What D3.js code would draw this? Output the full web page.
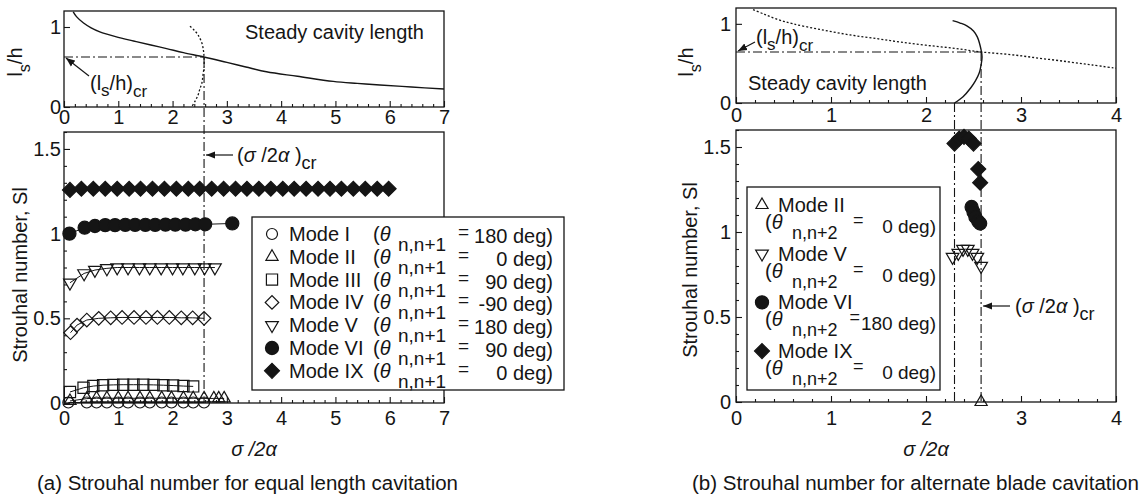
<!DOCTYPE html>
<html><head><meta charset="utf-8">
<script src="https://cdn.jsdelivr.net/npm/d3@7"></script>
<style>
body{margin:0;background:#fff}
svg{display:block}
text{font-family:"Liberation Sans",Arial,sans-serif;fill:#151515;white-space:pre}
</style>
</head><body><svg id="c" width="1143" height="499"></svg>
<script>
// ---------------- DATA ----------------
const xTicksA = [0,1,2,3,4,5,6,7];
const xTicksB = [0,1,2,3,4];
const yTicksTop = [0,1];
const yTicksSl = [0,0.5,1,1.5];
const yTickLabelsSl = ['0','0.5','1','1.5'];

// (a) top: steady cavity length (solid) and locus (dotted)
const steadyA_sigma = [0.17,0.23,0.36,0.5,0.66,0.95,1.28,1.6,1.89,2.2,2.58,3.0,3.35,3.73,4.3,4.96,5.4,5.82,6.4,7.0];
const steadyA_ls    = [1.19,1.13,1.05,0.99,0.94,0.88,0.825,0.775,0.73,0.68,0.625,0.557,0.5,0.44,0.384,0.32,0.295,0.275,0.25,0.225];
const locusA_sigma  = [2.32,2.40,2.47,2.54,2.57,2.58,2.58,2.56,2.54,2.50,2.47,2.42,2.35];
const locusA_ls     = [1.01,0.96,0.90,0.80,0.70,0.62,0.50,0.40,0.30,0.22,0.15,0.08,0.0];
const crA_sigma = 2.58, crA_ls = 0.625;

// (b) top: steady cavity length (dotted) and locus (solid)
const steadyB_sigma = [0.18,0.3,0.45,0.6,0.88,1.2,1.5,1.73,2.0,2.3,2.58,2.9,3.2,3.5,3.75,4.0];
const steadyB_ls    = [1.18,1.12,1.05,1.0,0.93,0.86,0.81,0.77,0.73,0.69,0.645,0.61,0.565,0.52,0.48,0.44];
const locusB_sigma  = [2.28,2.36,2.43,2.50,2.54,2.58,2.59,2.58,2.56,2.52,2.47,2.39,2.30];
const locusB_ls     = [1.04,1.01,0.975,0.91,0.835,0.67,0.58,0.48,0.38,0.28,0.19,0.08,0.0];
const crB_sigma = 2.58, crB_ls = 0.645, crB_sigmaLow = 2.30;

// (a) Strouhal numbers
const modeI_sigma   = [0.08,0.42,0.6,0.79,1.0,1.18,1.4,1.58,1.8,1.98,2.2,2.38,2.58];
const modeI_sl      = [0.003,0.003,0.003,0.003,0.003,0.003,0.003,0.003,0.003,0.003,0.003,0.003,0.003];
const modeII_sigma  = [0.11,0.42,0.6,0.79,1.0,1.18,1.4,1.58,1.8,1.98,2.2,2.38,2.58,2.76,2.85,2.95];
const modeII_sl     = [0.012,0.026,0.028,0.028,0.028,0.028,0.028,0.028,0.028,0.028,0.028,0.028,0.027,0.027,0.027,0.027];
const modeIII_sigma = [0.11,0.36,0.54,0.72,0.91,1.09,1.28,1.46,1.65,1.83,2.01,2.2,2.38];
const modeIII_sl    = [0.065,0.09,0.1,0.105,0.107,0.108,0.108,0.108,0.107,0.105,0.103,0.1,0.098];
const modeIV_sigma  = [0.12,0.24,0.42,0.64,0.86,1.07,1.29,1.51,1.72,1.94,2.16,2.37,2.58];
const modeIV_sl     = [0.415,0.46,0.49,0.5,0.503,0.505,0.505,0.505,0.505,0.505,0.503,0.503,0.5];
const modeV_sigma   = [0.11,0.37,0.57,0.79,0.98,1.18,1.39,1.58,1.79,2.0,2.19,2.41,2.59,2.78];
const modeV_sl      = [0.71,0.765,0.785,0.795,0.8,0.8,0.8,0.8,0.8,0.8,0.8,0.8,0.8,0.8];
const modeVI_sigma  = [0.1,0.38,0.57,0.76,0.94,1.13,1.31,1.5,1.68,1.87,2.05,2.24,2.42,2.6,3.1];
const modeVI_sl     = [1.0,1.035,1.045,1.05,1.05,1.052,1.052,1.052,1.052,1.053,1.053,1.053,1.055,1.055,1.06];
const modeIX_sigma  = [0.11,0.32,0.54,0.76,0.98,1.2,1.41,1.63,1.85,2.07,2.29,2.5,2.72,2.94,3.16,3.37,3.59,3.81,4.03,4.24,4.46,4.68,4.9,5.11,5.33,5.55,5.77,5.98];
const modeIX_sl     = [1.258,1.265,1.265,1.265,1.265,1.265,1.265,1.265,1.265,1.265,1.265,1.265,1.265,1.265,1.265,1.265,1.265,1.265,1.265,1.265,1.265,1.265,1.265,1.265,1.265,1.265,1.265,1.265];

// (b) Strouhal numbers
const bModeII_sigma = [2.58];
const bModeII_sl    = [0.0];
const bModeV_sigma  = [2.28,2.34,2.39,2.44,2.49,2.54,2.58];
const bModeV_sl     = [0.853,0.876,0.9,0.9,0.876,0.853,0.8];
const bModeVI_sigma = [2.48,2.5,2.52,2.55,2.57];
const bModeVI_sl    = [1.147,1.118,1.088,1.062,1.05];
const bModeIX_sigma = [2.30,2.35,2.40,2.45,2.50,2.55,2.57];
const bModeIX_sl    = [1.52,1.55,1.56,1.55,1.52,1.37,1.29];

// legends
const legendA_modes  = ['Mode I','Mode II','Mode III','Mode IV','Mode V','Mode VI','Mode IX'];
const legendA_phase  = ['180','0','90','-90','180','90','0'];
const legendB_modes  = ['Mode II','Mode V','Mode VI','Mode IX'];
const legendB_phase  = ['0','0','180','0'];

// ---------------- DRAW ----------------
const INK = '#151515';
const svg = d3.select('#c');
const defs = svg.append('defs');
defs.append('marker').attr('id','arr').attr('viewBox','0 0 10 10').attr('refX',10).attr('refY',5)
  .attr('markerWidth',9).attr('markerHeight',9).attr('markerUnits','userSpaceOnUse').attr('orient','auto')
  .append('path').attr('d','M0,1 L10,5 L0,9 Z').attr('fill',INK);

const xL  = d3.scaleLinear([0,7],[64,444]);
const yLT = d3.scaleLinear([0,1.2],[107,11]);
const yLB = d3.scaleLinear([0,1.6],[403,132]);
const xR  = d3.scaleLinear([0,4],[736,1116]);
const yRT = d3.scaleLinear([0,1.2],[103,8]);
const yRB = d3.scaleLinear([0,1.6],[402,130]);

const DASHDOT = '9,3,2,3';

function frame(x,y){
  svg.append('rect').attr('x',x.range()[0]).attr('y',y.range()[1])
    .attr('width',x.range()[1]-x.range()[0]).attr('height',y.range()[0]-y.range()[1])
    .attr('fill','none').attr('stroke',INK).attr('stroke-width',1.3);
}
function styleAxis(g){
  g.select('.domain').remove();
  g.selectAll('line').attr('stroke',INK).attr('stroke-width',1.1);
  g.selectAll('text').attr('font-size',20).attr('fill',INK).attr('font-family','"Liberation Sans",Arial,sans-serif');
}
function xAxis(x,y,majors,minorStep,pad){
  const g = svg.append('g').attr('transform',`translate(0,${y.range()[0]})`);
  g.call(d3.axisBottom(x).tickValues(majors).tickSize(-6).tickPadding(pad).tickFormat(d3.format('d')));
  styleAxis(g);
  const minors = d3.range(x.domain()[0], x.domain()[1]+1e-9, minorStep).filter(v=>Math.abs(v-Math.round(v))>1e-6);
  const g2 = svg.append('g').attr('transform',`translate(0,${y.range()[0]})`);
  g2.call(d3.axisBottom(x).tickValues(minors).tickSize(-3).tickFormat(''));
  styleAxis(g2);
}
function yAxis(x,y,majors,labels,minorStep,pad){
  const g = svg.append('g').attr('transform',`translate(${x.range()[0]},0)`);
  g.call(d3.axisLeft(y).tickValues(majors).tickSize(-6).tickPadding(pad).tickFormat((d,i)=>labels[i]));
  styleAxis(g);
  if(minorStep){
    const minors = d3.range(0, y.domain()[1]+1e-9, minorStep).filter(v=>!majors.some(m=>Math.abs(m-v)<1e-6));
    const g2 = svg.append('g').attr('transform',`translate(${x.range()[0]},0)`);
    g2.call(d3.axisLeft(y).tickValues(minors).tickSize(-3).tickFormat(''));
    styleAxis(g2);
  }
}
function curve(x,y,sx,sy,dash,w){
  const p = svg.append('path').attr('d', d3.line().curve(d3.curveCatmullRom.alpha(0.5))(sx.map((s,i)=>[x(s),y(sy[i])])))
    .attr('fill','none').attr('stroke',INK).attr('stroke-width',w||1.3);
  if(dash) p.attr('stroke-dasharray',dash);
  return p;
}
function seg(x1,y1,x2,y2,dash,w){
  const l = svg.append('line').attr('x1',x1).attr('y1',y1).attr('x2',x2).attr('y2',y2)
    .attr('stroke',INK).attr('stroke-width',w||1.1);
  if(dash) l.attr('stroke-dasharray',dash);
  return l;
}
const M = {
  circleOpen:  {type:d3.symbolCircle,  size:95,  fill:false, rot:0},
  triUp:       {type:d3.symbolTriangle,size:64,  fill:false, rot:0},
  square:      {type:d3.symbolSquare,  size:125, fill:false, rot:0},
  diamondOpen: {type:d3.symbolSquare,  size:92,  fill:false, rot:45},
  triDown:     {type:d3.symbolTriangle,size:70,  fill:false, rot:180},
  circleFill:  {type:d3.symbolCircle,  size:135, fill:true,  rot:0},
  diamondFill: {type:d3.symbolSquare,  size:112, fill:true,  rot:45}
};
function drawMarker(g,m,cx,cy){
  g.append('path').attr('d',d3.symbol(m.type,m.size)())
    .attr('transform',`translate(${cx},${cy}) rotate(${m.rot})`)
    .attr('fill',m.fill?INK:'none').attr('stroke',INK).attr('stroke-width',1.2);
}
function series(x,y,sx,sy,m,withLine){
  const g = svg.append('g');
  const pts = sx.map((s,i)=>[x(s),y(sy[i])]);
  if(withLine) g.append('path').attr('d',d3.line()(pts)).attr('fill','none').attr('stroke',INK).attr('stroke-width',1);
  pts.forEach(p=>drawMarker(g,m,p[0],p[1]));
}
function rich(parent,x,y,parts,opt){
  opt = opt||{};
  const t = parent.append('text').attr('x',x).attr('y',y).attr('font-size',opt.size||20)
    .attr('text-anchor',opt.anchor||'start');
  if(opt.transform) t.attr('transform',opt.transform);
  parts.forEach(p=>{
    if(typeof p==='string') p={t:p};
    const ts = t.append('tspan').text(p.t);
    if(p.i) ts.attr('font-style','italic');
    if(p.dy) ts.attr('dy',p.dy);
    if(p.dx) ts.attr('dx',p.dx);
    if(p.fs) ts.attr('font-size',p.fs);
  });
  return t;
}
// "=" + right-aligned value as one text element
function eqValue(parent,eqPref,rightX,eqY,valY,value,eqSize,valSize,minGap){
  // measure value width
  const probe = parent.append('text').attr('font-size',valSize).text(value);
  const vw = probe.node().getComputedTextLength(); probe.remove();
  const probe2 = parent.append('text').attr('font-size',eqSize).text('=');
  const ew = probe2.node().getComputedTextLength(); probe2.remove();
  const valStart = rightX - vw;
  const eqX = Math.min(eqPref, valStart - ew - minGap);
  const gap = valStart - (eqX + ew);
  rich(parent,eqX,eqY,[{t:'=',fs:eqSize},{t:value,fs:valSize,dx:gap,dy:valY-eqY}],{size:valSize});
}

// ---- Frames & axes ----
frame(xL,yLT); frame(xL,yLB); frame(xR,yRT); frame(xR,yRB);
xAxis(xL,yLT,xTicksA,0.2,3);
xAxis(xL,yLB,xTicksA,0.2,8);
xAxis(xR,yRT,xTicksB,0.2,5);
xAxis(xR,yRB,xTicksB,0.2,9);
yAxis(xL,yLT,yTicksTop,['0','1'],0,3);
yAxis(xL,yLB,yTicksSl,yTickLabelsSl,0.1,3);
yAxis(xR,yRT,yTicksTop,['0','1'],0,5);
yAxis(xR,yRB,yTicksSl,yTickLabelsSl,0.1,5);

// ---- (a) top ----
curve(xL,yLT,steadyA_sigma,steadyA_ls,null,1.4);
curve(xL,yLT,locusA_sigma,locusA_ls,'2,2',1.3);
seg(xL(0),yLT(crA_ls),xL(crA_sigma),yLT(crA_ls),DASHDOT);
seg(xL(crA_sigma),yLT(crA_ls),xL(crA_sigma),yLB(0),DASHDOT);

// ---- (b) top ----
curve(xR,yRT,steadyB_sigma,steadyB_ls,'2,2',1.3);
curve(xR,yRT,locusB_sigma,locusB_ls,null,1.4);
seg(xR(0),yRT(crB_ls),xR(crB_sigma),yRT(crB_ls),DASHDOT);
seg(xR(crB_sigma),yRT(crB_ls),xR(crB_sigma),yRB(0),DASHDOT);
seg(xR(crB_sigmaLow),yRT(0),xR(crB_sigmaLow),yRB(0),DASHDOT);

// ---- (a) bottom series ----
series(xL,yLB,modeIX_sigma,modeIX_sl,M.diamondFill,true);
series(xL,yLB,modeVI_sigma,modeVI_sl,M.circleFill,true);
series(xL,yLB,modeV_sigma,modeV_sl,M.triDown,true);
series(xL,yLB,modeIV_sigma,modeIV_sl,M.diamondOpen,true);
series(xL,yLB,modeIII_sigma,modeIII_sl,M.square,true);
series(xL,yLB,modeII_sigma,modeII_sl,M.triUp,true);
series(xL,yLB,modeI_sigma,modeI_sl,M.circleOpen,true);

// ---- (b) bottom series ----
series(xR,yRB,bModeIX_sigma,bModeIX_sl,M.diamondFill,false);
series(xR,yRB,bModeVI_sigma,bModeVI_sl,M.circleFill,false);
series(xR,yRB,bModeV_sigma,bModeV_sl,M.triDown,false);
series(xR,yRB,bModeII_sigma,bModeII_sl,M.triUp,false);

// ---- Legend (a) ----
const legA = svg.append('g');
legA.append('rect').attr('x',252).attr('y',217).attr('width',312).attr('height',173)
  .attr('fill','#fff').attr('stroke',INK).attr('stroke-width',1.3);
const legAMarkers = [M.circleOpen,M.triUp,M.square,M.diamondOpen,M.triDown,M.circleFill,M.diamondFill];
legendA_modes.forEach((name,i)=>{
  const cy = 234 + i*22.8;
  drawMarker(legA,legAMarkers[i],272,cy);
  rich(legA,289,cy+7,[name],{size:20});
  rich(legA,373,cy+7,['(',{t:'θ',i:true}],{size:20});
  rich(legA,398,cy+17,['n,n+1'],{size:19});
  eqValue(legA,458,553,cy+4,cy+9,legendA_phase[i]+' deg)',19,20,4);
});

// ---- Legend (b) ----
const legB = svg.append('g');
legB.append('rect').attr('x',747).attr('y',187).attr('width',193).attr('height',203)
  .attr('fill','#fff').attr('stroke',INK).attr('stroke-width',1.3);
const legBMarkers = [M.triUp,M.triDown,M.circleFill,M.diamondFill];
legendB_modes.forEach((name,i)=>{
  const cy = 205 + i*48.7;
  drawMarker(legB,legBMarkers[i],762,cy);
  rich(legB,778,cy+7,[name],{size:20});
  rich(legB,765,cy+24,['(',{t:'θ',i:true}],{size:20});
  rich(legB,792,cy+34,['n,n+2'],{size:18});
  eqValue(legB,853,936,cy+21,cy+28,legendB_phase[i]+' deg)',18,19,1);
});

// ---- Annotations ----
// (a) top
rich(svg,245,38.5,['Steady cavity length'],{size:20});
rich(svg,90,90,['(l',{t:'s',dy:6,fs:17},{t:'/h)',dy:-6},{t:'cr',dy:7,fs:17}],{size:20});
seg(89,76,xL(0)+2,yLT(crA_ls)+1,null,1.2).attr('marker-end','url(#arr)');
// (b) top
rich(svg,748,90,['Steady cavity length'],{size:20});
rich(svg,756,44,['(l',{t:'s',dy:6,fs:17},{t:'/h)',dy:-6},{t:'cr',dy:7,fs:17}],{size:20});
seg(755,42,xR(0)+2,yRT(crB_ls)-1,null,1.2).attr('marker-end','url(#arr)');

// (a) bottom critical
seg(233,155,xL(crA_sigma)+2,155,null,1.2).attr('marker-end','url(#arr)');
rich(svg,237,162,['(',{t:'σ',i:true},' /2',{t:'α',i:true},' )',{t:'cr',dy:7,fs:18}],{size:20});
// (b) bottom critical
seg(1010,306,xR(crB_sigma)+2,306,null,1.2).attr('marker-end','url(#arr)');
rich(svg,1015,313,['(',{t:'σ',i:true},' /2',{t:'α',i:true},' )',{t:'cr',dy:7,fs:18}],{size:20});

// axis titles
rich(svg,22,62,['l',{t:'s',dy:8,fs:16},{t:'/h',dy:-8}],{size:20,anchor:'middle',transform:'rotate(-90,22,62)'});
rich(svg,693,62,['l',{t:'s',dy:8,fs:16},{t:'/h',dy:-8}],{size:20,anchor:'middle',transform:'rotate(-90,693,62)'});
rich(svg,27,275,['Strouhal number, Sl'],{size:20,anchor:'middle',transform:'rotate(-90,27,275)'});
rich(svg,697,270,['Strouhal number, Sl'],{size:20,anchor:'middle',transform:'rotate(-90,697,270)'});
rich(svg,254,456,[{t:'σ',i:true},{t:' /2',i:true},{t:'α',i:true}],{size:20,anchor:'middle'});
rich(svg,926,456,[{t:'σ',i:true},{t:' /2',i:true},{t:'α',i:true}],{size:20,anchor:'middle'});

// captions
svg.append('text').attr('x',37).attr('y',490).attr('font-size',20)
  .attr('textLength',421).attr('lengthAdjust','spacingAndGlyphs')
  .text('(a) Strouhal number for equal length cavitation');
svg.append('text').attr('x',692).attr('y',490).attr('font-size',20)
  .attr('textLength',447).attr('lengthAdjust','spacingAndGlyphs')
  .text('(b) Strouhal number for alternate blade cavitation');
</script></body></html>
